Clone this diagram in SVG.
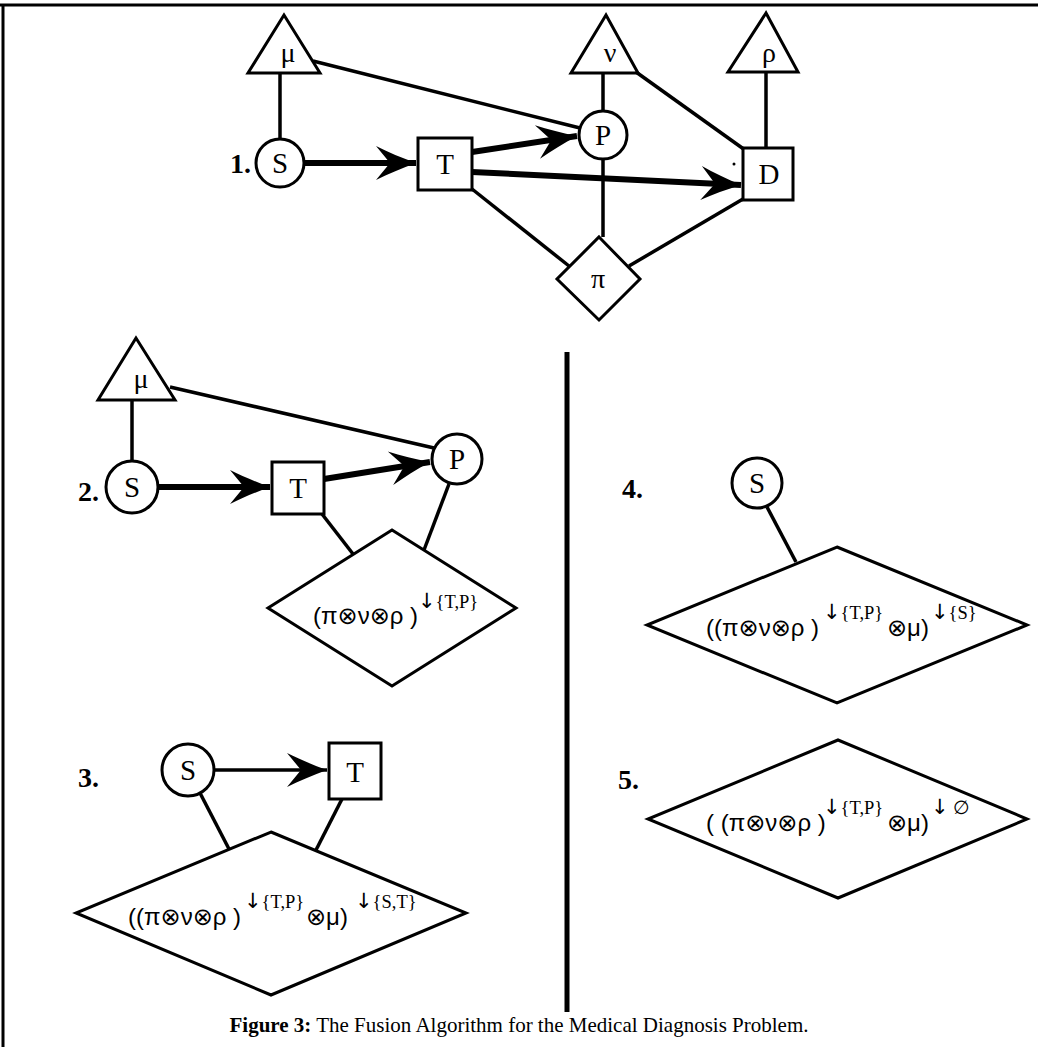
<svg xmlns="http://www.w3.org/2000/svg" width="1038" height="1047" viewBox="0 0 1038 1047">
<style>
.sh{fill:#fff;stroke:#000;stroke-width:3}
.ln{fill:none;stroke:#000;stroke-width:3.5}
.th{fill:none;stroke:#000;stroke-width:6}
.lb{font-family:"Liberation Serif","DejaVu Serif",serif;font-size:29px;text-anchor:middle;fill:#000}
.gk{font-family:"Liberation Serif","DejaVu Serif",serif;font-size:28px;text-anchor:middle;fill:#000}
.num{font-family:"Liberation Serif",serif;font-size:28px;font-weight:bold;fill:#000}
.ex{font-family:"Liberation Sans","DejaVu Sans",sans-serif;font-size:24px;fill:#000}
.sup{font-family:"Liberation Serif","DejaVu Serif",serif;font-size:18.5px;fill:#000}
.dn{font-family:"DejaVu Sans",sans-serif;font-size:21px}
.cap{font-family:"Liberation Serif",serif;font-size:21px;fill:#000;text-anchor:middle}
</style>
<defs>
<marker id="ah" markerUnits="userSpaceOnUse" viewBox="-42 -18 44 36" refX="0" refY="0" markerWidth="44" markerHeight="36" orient="auto">
<path d="M0,0 C-14,-5 -28,-11 -40,-17 L-26,0 L-40,17 C-28,11 -14,5 0,0 Z" fill="#000"/>
</marker>
</defs>
<g id="frame">
<line x1="0" y1="5" x2="1038" y2="5" stroke="#000" stroke-width="3"/>
<line x1="3" y1="5" x2="3" y2="1047" stroke="#000" stroke-width="3"/>
<line x1="567" y1="352" x2="567" y2="1012" stroke="#000" stroke-width="5"/>
</g>
<g id="connectors">
<line class="ln" x1="280" y1="73" x2="280" y2="139"/>
<line class="ln" x1="313" y1="61" x2="580" y2="128"/>
<line class="ln" x1="603" y1="73" x2="603" y2="111"/>
<line class="ln" x1="636" y1="72" x2="745" y2="150"/>
<line class="ln" x1="766" y1="72" x2="766" y2="148"/>
<line class="ln" x1="603" y1="159" x2="603" y2="237"/>
<line class="ln" x1="472" y1="189" x2="569" y2="266"/>
<line class="ln" x1="743" y1="199" x2="629" y2="266"/>
<line class="th" x1="304" y1="163" x2="416" y2="163" marker-end="url(#ah)"/>
<line class="th" x1="472" y1="152" x2="577" y2="136" marker-end="url(#ah)"/>
<line class="th" x1="472" y1="172" x2="741" y2="185" marker-end="url(#ah)"/>
<line class="ln" x1="132" y1="400" x2="132" y2="461"/>
<line class="ln" x1="170" y1="387" x2="434" y2="448"/>
<line class="th" x1="158" y1="487" x2="270" y2="487" marker-end="url(#ah)"/>
<line class="th" x1="324" y1="479" x2="430" y2="462" marker-end="url(#ah)"/>
<line class="ln" x1="322" y1="514" x2="353" y2="554"/>
<line class="ln" x1="449" y1="484" x2="424" y2="550"/>
<line class="ln" x1="200" y1="793" x2="229" y2="849"/>
<line class="ln" x1="342" y1="799" x2="316" y2="850"/>
<line class="ln" x1="214" y1="770" x2="327" y2="770" marker-end="url(#ah)"/>
<line class="ln" x1="767" y1="507" x2="796" y2="562"/>
</g>
<g id="labels">
<text class="num" x="230" y="173">1.</text>
<text class="num" x="78" y="501">2.</text>
<text class="num" x="78" y="787">3.</text>
<text class="num" x="622" y="498">4.</text>
<text class="num" x="618" y="789">5.</text>
</g>
<g id="d1-mu"><polygon class="sh" points="284,15 248,73 320,73"/><text class="gk" x="288" y="62">μ</text></g>
<g id="d1-nu"><polygon class="sh" points="606,15 571,73 638,73"/><text class="gk" x="610" y="62">ν</text></g>
<g id="d1-rho"><polygon class="sh" points="766,13 728,72 798,72"/><text class="gk" x="769" y="62">ρ</text></g>
<g id="d1-S"><circle class="sh" cx="280" cy="163" r="24"/><text class="lb" x="280" y="173">S</text></g>
<g id="d1-T"><rect class="sh" x="418" y="138" width="54" height="52"/><text class="lb" x="445" y="174">T</text></g>
<g id="d1-P"><circle class="sh" cx="603" cy="135" r="24"/><text class="lb" x="603" y="145">P</text></g>
<g id="d1-D"><rect class="sh" x="743" y="148" width="50" height="52"/><text class="lb" x="769" y="184">D</text><circle cx="734" cy="164" r="1.5" fill="#000"/></g>
<g id="d1-pi"><polygon class="sh" points="599,237 640,279 599,320 557,279"/><text class="gk" x="598" y="288">π</text></g>
<g id="d2-mu"><polygon class="sh" points="136,338 98,400 175,400"/><text class="gk" x="141" y="388">μ</text></g>
<g id="d2-S"><circle class="sh" cx="132" cy="487" r="26"/><text class="lb" x="132" y="497">S</text></g>
<g id="d2-T"><rect class="sh" x="272" y="462" width="52" height="52"/><text class="lb" x="298" y="498">T</text></g>
<g id="d2-P"><circle class="sh" cx="457" cy="459" r="25"/><text class="lb" x="457" y="469">P</text></g>
<g id="d2-F"><polygon class="sh" points="392,530 516,608 392,686 268,608"/>
<text class="ex" x="313" y="624">(π⊗ν⊗ρ )</text><text class="sup" x="418" y="608"><tspan class="dn">↓</tspan>{T,P}</text></g>
<g id="d3-S"><circle class="sh" cx="188" cy="770" r="26"/><text class="lb" x="188" y="780">S</text></g>
<g id="d3-T"><rect class="sh" x="329" y="743" width="52" height="56"/><text class="lb" x="355" y="782">T</text></g>
<g id="d3-F"><polygon class="sh" points="271,832 466,913 271,995 76,913"/>
<text class="ex" x="128" y="925">((π⊗ν⊗ρ )</text><text class="sup" x="244" y="908"><tspan class="dn">↓</tspan>{T,P}</text>
<text class="ex" x="306" y="925">⊗μ)</text><text class="sup" x="355" y="908"><tspan class="dn">↓</tspan>{S,T}</text></g>
<g id="d4-S"><circle class="sh" cx="757" cy="483" r="25"/><text class="lb" x="757" y="493">S</text></g>
<g id="d4-F"><polygon class="sh" points="837,547 1027,625 837,703 647,625"/>
<text class="ex" x="706" y="636">((π⊗ν⊗ρ )</text><text class="sup" x="823" y="619"><tspan class="dn">↓</tspan>{T,P}</text>
<text class="ex" x="887" y="636">⊗μ)</text><text class="sup" x="931" y="619"><tspan class="dn">↓</tspan>{S}</text></g>
<g id="d5-F"><polygon class="sh" points="838,740 1027,819 838,898 648,819"/>
<text class="ex" x="706" y="831">( (π⊗ν⊗ρ )</text><text class="sup" x="823" y="814"><tspan class="dn">↓</tspan>{T,P}</text>
<text class="ex" x="887" y="831">⊗μ)</text><text class="sup" x="931" y="814"><tspan class="dn">↓</tspan> ∅</text></g>
<g id="caption"><text class="cap" x="519" y="1032"><tspan font-weight="bold">Figure 3:</tspan>  The Fusion Algorithm for the Medical Diagnosis Problem.</text></g>
</svg>
